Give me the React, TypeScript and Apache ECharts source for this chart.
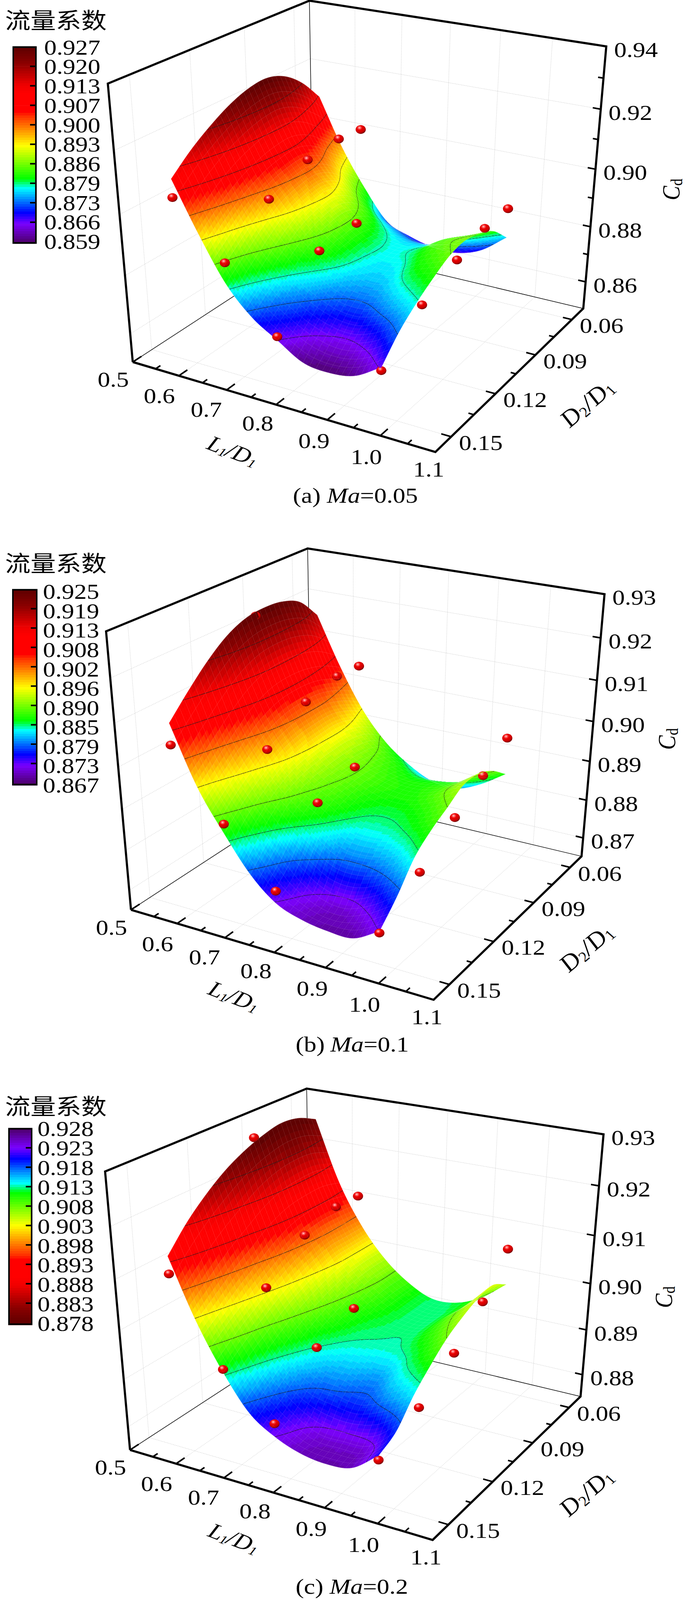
import React, { useEffect, useRef } from "react";
import * as echarts from "echarts";

// NOTE: Cd tables are hand estimates read from contour lines and silhouettes in the picture.
// The drawn surface is a Catmull-Rom refinement of these coarse tables, for smooth rendering only;
// the in-between values are therefore interpolated and were not individually read.
// NOTE: the sandbox viewport is capped at 4096 px tall, so the 4729 px layout is squeezed vertically
// (VIEW_H / PAGE_H) to keep all content visible.
const L_GRID = [0.57, 0.62, 0.67, 0.72, 0.77, 0.82, 0.87, 0.92, 0.97];
const D_GRID = [0.15, 0.139375, 0.12875, 0.118125, 0.1075, 0.096875, 0.08625, 0.075625, 0.065];

const CD_A = [
  [0.9105, 0.8945, 0.8805, 0.8715, 0.866, 0.8608, 0.8598, 0.8612, 0.8665],
  [0.9162, 0.9, 0.886, 0.877, 0.871, 0.867, 0.8655, 0.868, 0.8735],
  [0.9207, 0.9045, 0.8915, 0.8825, 0.8765, 0.8725, 0.872, 0.875, 0.8785],
  [0.9243, 0.9075, 0.896, 0.887, 0.881, 0.8765, 0.876, 0.8795, 0.8825],
  [0.9266, 0.9092, 0.898, 0.8895, 0.8825, 0.878, 0.878, 0.8825, 0.8858],
  [0.9272, 0.9095, 0.8985, 0.89, 0.8825, 0.8785, 0.8795, 0.8845, 0.887],
  [0.925, 0.9068, 0.8955, 0.8865, 0.88, 0.877, 0.8775, 0.882, 0.8855],
  [0.92, 0.9015, 0.889, 0.88, 0.875, 0.8725, 0.8735, 0.877, 0.8825],
  [0.9125, 0.896, 0.883, 0.8725, 0.869, 0.867, 0.867, 0.87, 0.8765],
];
const CD_B = [
  [0.9095, 0.896, 0.8865, 0.8782, 0.8728, 0.8705, 0.8695, 0.8695, 0.873],
  [0.9145, 0.9, 0.891, 0.8835, 0.8765, 0.8725, 0.8715, 0.874, 0.878],
  [0.919, 0.904, 0.8945, 0.8885, 0.8838, 0.8795, 0.879, 0.8805, 0.884],
  [0.9225, 0.9075, 0.8975, 0.891, 0.8875, 0.884, 0.8835, 0.8848, 0.8875],
  [0.9245, 0.9095, 0.899, 0.892, 0.889, 0.886, 0.8855, 0.887, 0.89],
  [0.925, 0.91, 0.8995, 0.8925, 0.8895, 0.8875, 0.887, 0.889, 0.8925],
  [0.9245, 0.9095, 0.8995, 0.8925, 0.889, 0.887, 0.887, 0.8885, 0.8925],
  [0.9225, 0.908, 0.898, 0.8915, 0.8875, 0.885, 0.885, 0.8865, 0.8905],
  [0.9175, 0.9055, 0.8955, 0.8885, 0.884, 0.881, 0.8805, 0.883, 0.887],
];
const CD_C = [
  [0.914, 0.9025, 0.8935, 0.8865, 0.883, 0.881, 0.8803, 0.881, 0.885],
  [0.9185, 0.9055, 0.8965, 0.8895, 0.885, 0.8822, 0.882, 0.8825, 0.887],
  [0.922, 0.9085, 0.899, 0.8925, 0.8885, 0.8875, 0.8868, 0.889, 0.8915],
  [0.9248, 0.911, 0.9015, 0.895, 0.8915, 0.8905, 0.8895, 0.8925, 0.895],
  [0.9268, 0.9135, 0.9035, 0.897, 0.8935, 0.8925, 0.8925, 0.8945, 0.898],
  [0.9282, 0.915, 0.905, 0.8985, 0.8945, 0.8933, 0.8933, 0.8962, 0.9],
  [0.929, 0.9155, 0.906, 0.8995, 0.8955, 0.8935, 0.8935, 0.897, 0.9015],
  [0.9285, 0.9155, 0.906, 0.9, 0.896, 0.8935, 0.8935, 0.8965, 0.902],
  [0.9268, 0.9145, 0.906, 0.9, 0.896, 0.8936, 0.8938, 0.896, 0.9],
];

const BALLS_A = [
  [0.57, 0.15, 0.9046], [0.67, 0.125, 0.8993], [0.67, 0.102, 0.9049], [0.67, 0.0825, 0.906], [0.67, 0.068, 0.905],
  [0.67, 0.15, 0.8874], [0.77, 0.125, 0.886], [0.77, 0.102, 0.887], [0.77, 0.15, 0.8672], [0.97, 0.15, 0.8654],
  [0.97, 0.125, 0.8764], [0.97, 0.102, 0.8824], [0.97, 0.0825, 0.886], [0.97, 0.065, 0.8867],
];
const BALLS_B = [
  [0.57, 0.15, 0.9045], [0.57, 0.102, 0.924], [0.67, 0.125, 0.9], [0.67, 0.102, 0.906], [0.67, 0.0825, 0.908], [0.67, 0.068, 0.9075],
  [0.67, 0.15, 0.8888], [0.77, 0.125, 0.89], [0.77, 0.102, 0.8927], [0.77, 0.15, 0.8758], [0.97, 0.15, 0.8726],
  [0.97, 0.125, 0.8793], [0.97, 0.102, 0.886], [0.97, 0.0825, 0.8911], [0.97, 0.065, 0.8961],
];
const BALLS_C = [
  [0.57, 0.15, 0.9106], [0.57, 0.102, 0.9285], [0.67, 0.125, 0.905], [0.67, 0.102, 0.9111], [0.67, 0.0825, 0.9134], [0.67, 0.068, 0.9131],
  [0.67, 0.15, 0.8941], [0.77, 0.125, 0.8952], [0.77, 0.102, 0.8982], [0.77, 0.15, 0.8857], [0.97, 0.15, 0.8841],
  [0.97, 0.125, 0.8881], [0.97, 0.102, 0.8937], [0.97, 0.0825, 0.9], [0.97, 0.065, 0.9074],
];

const BAR_A = ["0.927", "0.920", "0.913", "0.907", "0.900", "0.893", "0.886", "0.879", "0.873", "0.866", "0.859"];
const BAR_B = ["0.925", "0.919", "0.913", "0.908", "0.902", "0.896", "0.890", "0.885", "0.879", "0.873", "0.867"];
const BAR_C = ["0.928", "0.923", "0.918", "0.913", "0.908", "0.903", "0.898", "0.893", "0.888", "0.883", "0.878"];
const L_MAJOR = [0.5, 0.6, 0.7, 0.8, 0.9, 1.0, 1.1];
const L_MINOR = [0.55, 0.65, 0.75, 0.85, 0.95, 1.05];
const D_MAJOR = [0.06, 0.09, 0.12, 0.15];
const D_MINOR = [0.075, 0.105, 0.135];
const Z_TICKS_A = [0.86, 0.88, 0.9, 0.92, 0.94];
const Z_MINOR_A = [0.87, 0.89, 0.91, 0.93];
const Z_TICKS_B = [0.87, 0.88, 0.89, 0.9, 0.91, 0.92, 0.93];
const Z_TICKS_C = [0.88, 0.89, 0.9, 0.91, 0.92, 0.93];
const LEVELS_A = [0.92, 0.913, 0.907, 0.9, 0.893, 0.886, 0.879, 0.873, 0.866];
const LEVELS_B = [0.919, 0.913, 0.908, 0.902, 0.896, 0.89, 0.885, 0.879, 0.873];
const LEVELS_C = [0.923, 0.918, 0.913, 0.908, 0.903, 0.898, 0.893, 0.888, 0.883];

// layout
const PAGE_W = 1772;
const PAGE_H = 4729;
const VIEW_H = 4096;
const YS = VIEW_H / PAGE_H;
const FONT = '"Liberation Serif"';
const L_LABEL_OFF = [[-50, 52], [-50, 60], [-52, 58], [-47, 55], [-34, 62], [-36, 62], [-17, 51]];
const CORNERS = [
  [0, 1, 0, 339, 1070], [1, 1, 0, 1115, 1336], [1, 0, 0, 1493, 912], [0, 0, 0, 804, 722],
  [0, 1, 1, 277, 247], [1, 0, 1, 1553, 137], [0, 0, 1, 791, 2],
];
const PANELS = [
  { table: CD_A, balls: BALLS_A, bar: BAR_A, levels: LEVELS_A, zt: Z_TICKS_A, zm: Z_MINOR_A, zmin: 0.85, zmax: 0.94, cmax: 0.927, cmin: 0.859, sx: 0, sy: 0,
    bx: [32, 94], by: [137, 720], lx: 113, ly: 140, ls: 57.4, ty: 196, ts: 57.6, title: [143, 56], flip: false, cap: ["(a) ", "=0.05"], capX: 750, capY: 1465, cd: [1719, 560], ld: [596, 1333], dd: [1505, 1190] },
  { table: CD_B, balls: BALLS_B, bar: BAR_B, levels: LEVELS_B, zt: Z_TICKS_B, zm: [], zmin: 0.865, zmax: 0.93, cmax: 0.925, cmin: 0.867, sx: -4.5, sy: 1619,
    bx: [31, 96], by: [1741, 2321], lx: 110, ly: 1749, ls: 57.2, ty: 1799, ts: 57.2, title: [143, 1661], flip: false, cap: ["(b) ", "=0.1"], capX: 757, capY: 3087, cd: [1708, 2184], ld: [599, 2945], dd: [1503, 2800] },
  { table: CD_C, balls: BALLS_C, bar: BAR_C, levels: LEVELS_C, zt: Z_TICKS_C, zm: [], zmin: 0.875, zmax: 0.93, cmax: 0.928, cmin: 0.878, sx: -7, sy: 3215.5,
    bx: [21, 83], by: [3334, 3916], lx: 96, ly: 3336.6, ls: 57.54, ty: 3392.5, ts: 57.4, title: [143, 3266], flip: true, cap: ["(c) ", "=0.2"], capX: 757, capY: 4689, cd: [1700, 3834], ld: [599, 4547], dd: [1503, 4409] },
];
const COLOR_STOPS: [number, number[]][] = [
  [0, [0x5a, 0, 0]], [0.086, [0x8b, 0, 0]], [0.198, [0xf0, 0, 0]], [0.24, [255, 0, 0]], [0.332, [255, 0, 0]], [0.354, [255, 0x30, 0]],
  [0.42, [255, 0x8a, 0]], [0.504, [255, 255, 0]], [0.672, [0, 255, 0]], [0.72, [0, 255, 255]], [0.843, [0, 0, 255]], [0.9, [0x7a, 0, 255]], [1, [0x4a, 0, 0x60]],
];
const STEPS = 80;
const SUB = 12;

function colorAt(f: number) {
  f = Math.max(0, Math.min(0.9999, f));
  f = (Math.floor(f * STEPS) + 0.5) / STEPS;
  for (let i = 1; i < COLOR_STOPS.length; i++) {
    if (f <= COLOR_STOPS[i][0]) {
      const [a, ca] = COLOR_STOPS[i - 1];
      const [b, cb] = COLOR_STOPS[i];
      const t = (f - a) / (b - a);
      return `rgb(${ca.map((c, k) => Math.round(c + (cb[k] - c) * t)).join(",")})`;
    }
  }
  return "#000";
}

function solveCamera() {
  const A: number[][] = [];
  const B: number[] = [];
  for (const [u, v, w, x0, y0] of CORNERS) {
    const x = x0 / 1000, y = y0 / 1000;
    A.push([u, v, w, 1, 0, 0, 0, 0, -x * u, -x * v, -x * w]); B.push(x);
    A.push([0, 0, 0, 0, u, v, w, 1, -y * u, -y * v, -y * w]); B.push(y);
  }
  const n = 11;
  const M = Array.from({ length: n }, (_, i) => {
    const r = new Array(n + 1).fill(0);
    for (let k = 0; k < A.length; k++) {
      for (let j = 0; j < n; j++) r[j] += A[k][i] * A[k][j];
      r[n] += A[k][i] * B[k];
    }
    return r;
  });
  for (let c = 0; c < n; c++) {
    let p = c;
    for (let r = c + 1; r < n; r++) if (Math.abs(M[r][c]) > Math.abs(M[p][c])) p = r;
    [M[c], M[p]] = [M[p], M[c]];
    for (let r = 0; r < n; r++) {
      if (r === c) continue;
      const f = M[r][c] / M[c][c];
      for (let j = c; j <= n; j++) M[r][j] -= f * M[c][j];
    }
  }
  return M.map((r, i) => r[n] / r[i]);
}
const CAM = solveCamera();

function makeProject(p: any) {
  return (L: number, D: number, z: number) => {
    const u = (L - 0.5) / 0.6, v = (D - 0.05) / 0.11, w = (z - p.zmin) / (p.zmax - p.zmin);
    const W = CAM[8] * u + CAM[9] * v + CAM[10] * w + 1;
    const x = (CAM[0] * u + CAM[1] * v + CAM[2] * w + CAM[3]) / W;
    const y = (CAM[4] * u + CAM[5] * v + CAM[6] * w + CAM[7]) / W;
    return [x * 1000 + p.sx, y * 1000 + p.sy, -(u + 1.72 * v + 1.11 * w)];
  };
}

function cr(a: number, b: number, c: number, d: number, t: number) {
  return 0.5 * (2 * b + (c - a) * t + (2 * a - 5 * b + 4 * c - d) * t * t + (3 * b - a - 3 * c + d) * t * t * t);
}
function refine(table: number[][]) {
  const rows = table.length, cols = table[0].length;
  const get = (i: number, j: number) => {
    const ii = Math.max(0, Math.min(rows - 1, i)), jj = Math.max(0, Math.min(cols - 1, j));
    let val = table[ii][jj];
    if (i < 0) val += table[0][jj] - table[1][jj];
    if (i > rows - 1) val += table[rows - 1][jj] - table[rows - 2][jj];
    if (j < 0) val += table[ii][0] - table[ii][1];
    if (j > cols - 1) val += table[ii][cols - 1] - table[ii][cols - 2];
    return val;
  };
  const nR = (rows - 1) * SUB + 1, nC = (cols - 1) * SUB + 1;
  const out: number[][] = [];
  for (let r = 0; r < nR; r++) {
    const i = Math.min(rows - 2, Math.floor(r / SUB)), tr = r / SUB - i;
    const line: number[] = [];
    for (let c = 0; c < nC; c++) {
      const j = Math.min(cols - 2, Math.floor(c / SUB)), tc = c / SUB - j;
      const col = [-1, 0, 1, 2].map((di) => cr(get(i + di, j - 1), get(i + di, j), get(i + di, j + 1), get(i + di, j + 2), tc));
      line.push(cr(col[0], col[1], col[2], col[3], tr));
    }
    out.push(line);
  }
  return out;
}

function buildItems() {
  const items: any[] = [];
  PANELS.forEach((p: any) => {
    const P = makeProject(p);
    const line = (a: number[], b: number[], stroke: string, width: number, dash?: number[]) =>
      items.push({ k: "l", a, b, stroke, width, dash });
    const GRID = "#c4c4c4";
    const DASH = [2, 2];
    const zs = p.zt.filter((z: number) => z < p.zmax - 1e-6);
    [0.6, 0.7, 0.8, 0.9, 1.0].forEach((L) => {
      line(P(L, 0.05, p.zmin), P(L, 0.16, p.zmin), GRID, 1, DASH);
      line(P(L, 0.05, p.zmin), P(L, 0.05, p.zmax), GRID, 1, DASH);
    });
    D_MAJOR.forEach((D) => {
      line(P(0.5, D, p.zmin), P(1.1, D, p.zmin), GRID, 1, DASH);
      line(P(0.5, D, p.zmin), P(0.5, D, p.zmax), GRID, 1, DASH);
    });
    zs.forEach((z: number) => {
      line(P(0.5, 0.16, z), P(0.5, 0.05, z), GRID, 1, DASH);
      line(P(0.5, 0.05, z), P(1.1, 0.05, z), GRID, 1, DASH);
    });
    line(P(0.5, 0.16, p.zmin), P(0.5, 0.05, p.zmin), "#000", 1.5);
    line(P(0.5, 0.05, p.zmin), P(1.1, 0.05, p.zmin), "#000", 1.5);
    line(P(0.5, 0.05, p.zmin), P(0.5, 0.05, p.zmax), "#000", 1.5);

    // surface
    const g = refine(p.table);
    const nR = g.length, nC = g[0].length;
    const LL = (c: number) => L_GRID[0] + ((L_GRID[L_GRID.length - 1] - L_GRID[0]) * c) / (nC - 1);
    const DD = (r: number) => D_GRID[0] + ((D_GRID[D_GRID.length - 1] - D_GRID[0]) * r) / (nR - 1);
    const depthItems: any[] = [];
    for (let r = 0; r < nR - 1; r++) {
      for (let c = 0; c < nC - 1; c++) {
        const q = [[r, c], [r, c + 1], [r + 1, c + 1], [r + 1, c]];
        const pts = q.map(([a, b]) => P(LL(b), DD(a), g[a][b]));
        const avg = q.reduce((s, [a, b]) => s + g[a][b], 0) / 4;
        const depth = pts.reduce((s, t) => s + t[2], 0) / 4;
        const color = colorAt((p.cmax - avg) / (p.cmax - p.cmin));
        depthItems.push({ k: "q", pts, color, depth });
        p.levels.forEach((lv: number) => {
          const cross: number[][] = [];
          for (let e = 0; e < 4; e++) {
            const [a1, b1] = q[e], [a2, b2] = q[(e + 1) % 4];
            const v1 = g[a1][b1], v2 = g[a2][b2];
            if (v1 < lv !== v2 < lv) {
              const t = (lv - v1) / (v2 - v1);
              cross.push(P(LL(b1 + (b2 - b1) * t), DD(a1 + (a2 - a1) * t), lv));
            }
          }
          if (cross.length >= 2) depthItems.push({ k: "s", a: cross[0], b: cross[1], depth: depth - 1e-4 });
        });
      }
    }
    p.balls.forEach(([L, D, z]: number[]) => {
      const t = P(L, D, z);
      depthItems.push({ k: "b", c: t, depth: t[2] });
    });
    depthItems.sort((x, y) => y.depth - x.depth);
    items.push(...depthItems);

    // faint mesh over the surface
    for (let r = 0; r < nR; r += 3) {
      const pts = [];
      for (let c = 0; c < nC; c += 3) pts.push(P(LL(c), DD(r), g[r][c]));
      items.push({ k: "m", pts });
    }
    for (let c = 0; c < nC; c += 3) {
      const pts = [];
      for (let r = 0; r < nR; r += 3) pts.push(P(LL(c), DD(r), g[r][c]));
      items.push({ k: "m", pts });
    }

    // frame and ticks
    const THICK = 5.5;
    items.push({ k: "p", pts: [P(0.5, 0.16, p.zmin), P(0.5, 0.16, p.zmax), P(0.5, 0.05, p.zmax), P(1.1, 0.05, p.zmax), P(1.1, 0.05, p.zmin), P(1.1, 0.16, p.zmin), P(0.5, 0.16, p.zmin)], width: THICK });
    L_MAJOR.forEach((L) => line(P(L, 0.16, p.zmin), P(L, 0.1555, p.zmin), "#000", 4));
    L_MINOR.forEach((L) => line(P(L, 0.16, p.zmin), P(L, 0.1575, p.zmin), "#000", 4));
    D_MAJOR.forEach((D) => line(P(1.1, D, p.zmin), P(1.082, D, p.zmin), "#000", 4));
    D_MINOR.forEach((D) => line(P(1.1, D, p.zmin), P(1.09, D, p.zmin), "#000", 4));
    p.zt.filter((z: number) => z < p.zmax - 1e-6).forEach((z: number) => line(P(1.1, 0.05, z), P(1.085, 0.05, z), "#000", 4));
    p.zm.forEach((z: number) => line(P(1.1, 0.05, z), P(1.09, 0.05, z), "#000", 4));

    // colour bar
    const [x0, x1] = p.bx, [y0, y1] = p.by;
    for (let i = 0; i < STEPS; i++) {
      const f = i / STEPS;
      const y = y0 + (y1 - y0) * f;
      items.push({ k: "r", x: x0, y, x2: x1, y2: y + (y1 - y0) / STEPS + 0.8, color: colorAt(p.flip ? 1 - f - 0.001 : f + 0.001) });
    }
    items.push({ k: "rf", x: x0 + 2, y: y0 + 2, x2: x1 - 2, y2: y1 - 2 });
    for (let i = 0; i < 9; i++) {
      const y = p.ty + p.ts * i;
      items.push({ k: "l", a: [x1 - 17, y], b: [x1, y], stroke: "#000", width: 4 });
    }
  });
  return items;
}

function buildTexts() {
  const els: any[] = [];
  const text = (t: string, x: number, y: number, font: string, align = "center", vAlign = "middle") => ({
    type: "text", x, y, silent: true, style: { text: t, font, fill: "#000", align, verticalAlign: vAlign },
  });
  const NUM = `64px ${FONT}`;
  const IT = `italic 64px ${FONT}`;
  PANELS.forEach((p: any) => {
    const P = makeProject(p);
    els.push(text("流量系数", p.title[0], p.title[1], '65px "Noto Sans CJK SC"'));
    p.bar.forEach((t: string, i: number) => els.push(text(t, p.lx, p.ly + p.ls * i, NUM, "left")));
    p.zt.forEach((z: number) => {
      const a = P(1.1, 0.05, z);
      els.push(text(z.toFixed(2), a[0] + 76, a[1] + 10, NUM));
    });
    L_MAJOR.forEach((L, i) => {
      const a = P(L, 0.16, p.zmin);
      els.push(text(L.toFixed(1), a[0] + L_LABEL_OFF[i][0], a[1] + L_LABEL_OFF[i][1], NUM));
    });
    D_MAJOR.forEach((D) => {
      const a = P(1.1, D, p.zmin);
      els.push(text(D.toFixed(2), a[0] + 76, a[1] + 18, NUM));
    });
    els.push({ type: "group", x: p.cd[0], y: p.cd[1], rotation: Math.PI / 2, silent: true, children: [
      text("C", -32, 0, IT, "left"), text("d", 11, 14, `42px ${FONT}`, "left"),
    ] });
    els.push({ type: "group", x: p.ld[0], y: p.ld[1], rotation: (-24 * Math.PI) / 180, silent: true, children: [
      text("L", -67, 0, IT, "left"), text("1", -32, 14, `italic 36px ${FONT}`, "left"), text("/", -15, 0, IT, "left"), text("D", 3, 0, IT, "left"), text("1", 50, 14, `italic 36px ${FONT}`, "left"),
    ] });
    els.push({ type: "group", x: p.dd[0], y: p.dd[1], rotation: (44 * Math.PI) / 180, silent: true, children: [
      text("D", -85, 0, `italic 68px ${FONT}`, "left"), text("2", -35, 14, `42px ${FONT}`, "left"), text("/", -13, 0, `italic 68px ${FONT}`, "left"), text("D", 8, 0, `italic 68px ${FONT}`, "left"), text("1", 58, 14, `42px ${FONT}`, "left"),
    ] });
    const capStart = p.capX;
    els.push(text(p.cap[0], capStart, p.capY, NUM, "left"));
    const lead = p.cap[0] === "(b) " ? 89 : 87;
    els.push(text("Ma", capStart + lead, p.capY, IT, "left"));
    els.push(text(p.cap[1], capStart + lead + 85, p.capY, NUM, "left"));
  });
  return [{ type: "group", x: 0, y: 0, scaleX: 1, scaleY: YS, silent: true, children: els }];
}

export default function App() {
  const ref = useRef<HTMLDivElement>(null);
  useEffect(() => {
    document.body.style.margin = "0";
    const chart = echarts.init(ref.current!, undefined, { renderer: "svg", width: PAGE_W, height: VIEW_H });
    const items = buildItems();
    const ballFill = new echarts.graphic.RadialGradient(0.38, 0.3, 0.75, [
      { offset: 0, color: "#ffe0e0" }, { offset: 0.14, color: "#ff6a6a" }, { offset: 0.36, color: "#ea0000" },
      { offset: 0.72, color: "#c80000" }, { offset: 1, color: "#5a0000" },
    ]);
    const renderItem = (_: any, api: any) => {
      const it = items[api.value(0)];
      const cp = (t: number[]) => api.coord([t[0], t[1]]);
      if (it.k === "q") {
        return { type: "polygon", silent: true, shape: { points: it.pts.map(cp) }, style: { fill: it.color, stroke: it.color, lineWidth: 0.7 } };
      }
      if (it.k === "s") {
        const a = cp(it.a), b = cp(it.b);
        return { type: "line", silent: true, shape: { x1: a[0], y1: a[1], x2: b[0], y2: b[1] }, style: { stroke: "rgba(30,30,30,0.85)", lineWidth: 1.3 } };
      }
      if (it.k === "m") {
        return { type: "polyline", silent: true, shape: { points: it.pts.map(cp) }, style: { stroke: "rgba(255,255,255,0.13)", lineWidth: 1, fill: "none" } };
      }
      if (it.k === "b") {
        const c = cp(it.c);
        return { type: "ellipse", silent: true, shape: { cx: c[0], cy: c[1], rx: 13, ry: 13 * YS }, style: { fill: ballFill } };
      }
      if (it.k === "l") {
        const a = cp(it.a), b = cp(it.b);
        return { type: "line", silent: true, shape: { x1: a[0], y1: a[1], x2: b[0], y2: b[1] }, style: { stroke: it.stroke, lineWidth: it.width, lineDash: it.dash } };
      }
      if (it.k === "p") {
        return { type: "polyline", silent: true, shape: { points: it.pts.map(cp) }, style: { stroke: "#000", lineWidth: it.width, fill: "none", lineJoin: "miter" } };
      }
      const a = cp([it.x, it.y]), b = cp([it.x2, it.y2]);
      if (it.k === "r") {
        return { type: "rect", silent: true, shape: { x: a[0], y: a[1], width: b[0] - a[0], height: b[1] - a[1] }, style: { fill: it.color } };
      }
      return { type: "rect", silent: true, shape: { x: a[0], y: a[1], width: b[0] - a[0], height: b[1] - a[1] }, style: { fill: "none", stroke: "#000", lineWidth: 4 } };
    };
    chart.setOption({
      animation: false,
      grid: { left: 0, right: 0, top: 0, bottom: 0, show: false },
      xAxis: { type: "value", min: 0, max: PAGE_W, show: false },
      yAxis: { type: "value", min: 0, max: PAGE_H, inverse: true, show: false },
      series: [{
        type: "custom", coordinateSystem: "cartesian2d", silent: true, clip: false, progressive: 0,
        encode: { x: 0, y: 0 }, data: items.map((_, i) => [i]), renderItem,
      }],
      graphic: { elements: buildTexts() },
    });
    return () => chart.dispose();
  }, []);
  return <div ref={ref} style={{ width: PAGE_W, height: VIEW_H }} />;
}
